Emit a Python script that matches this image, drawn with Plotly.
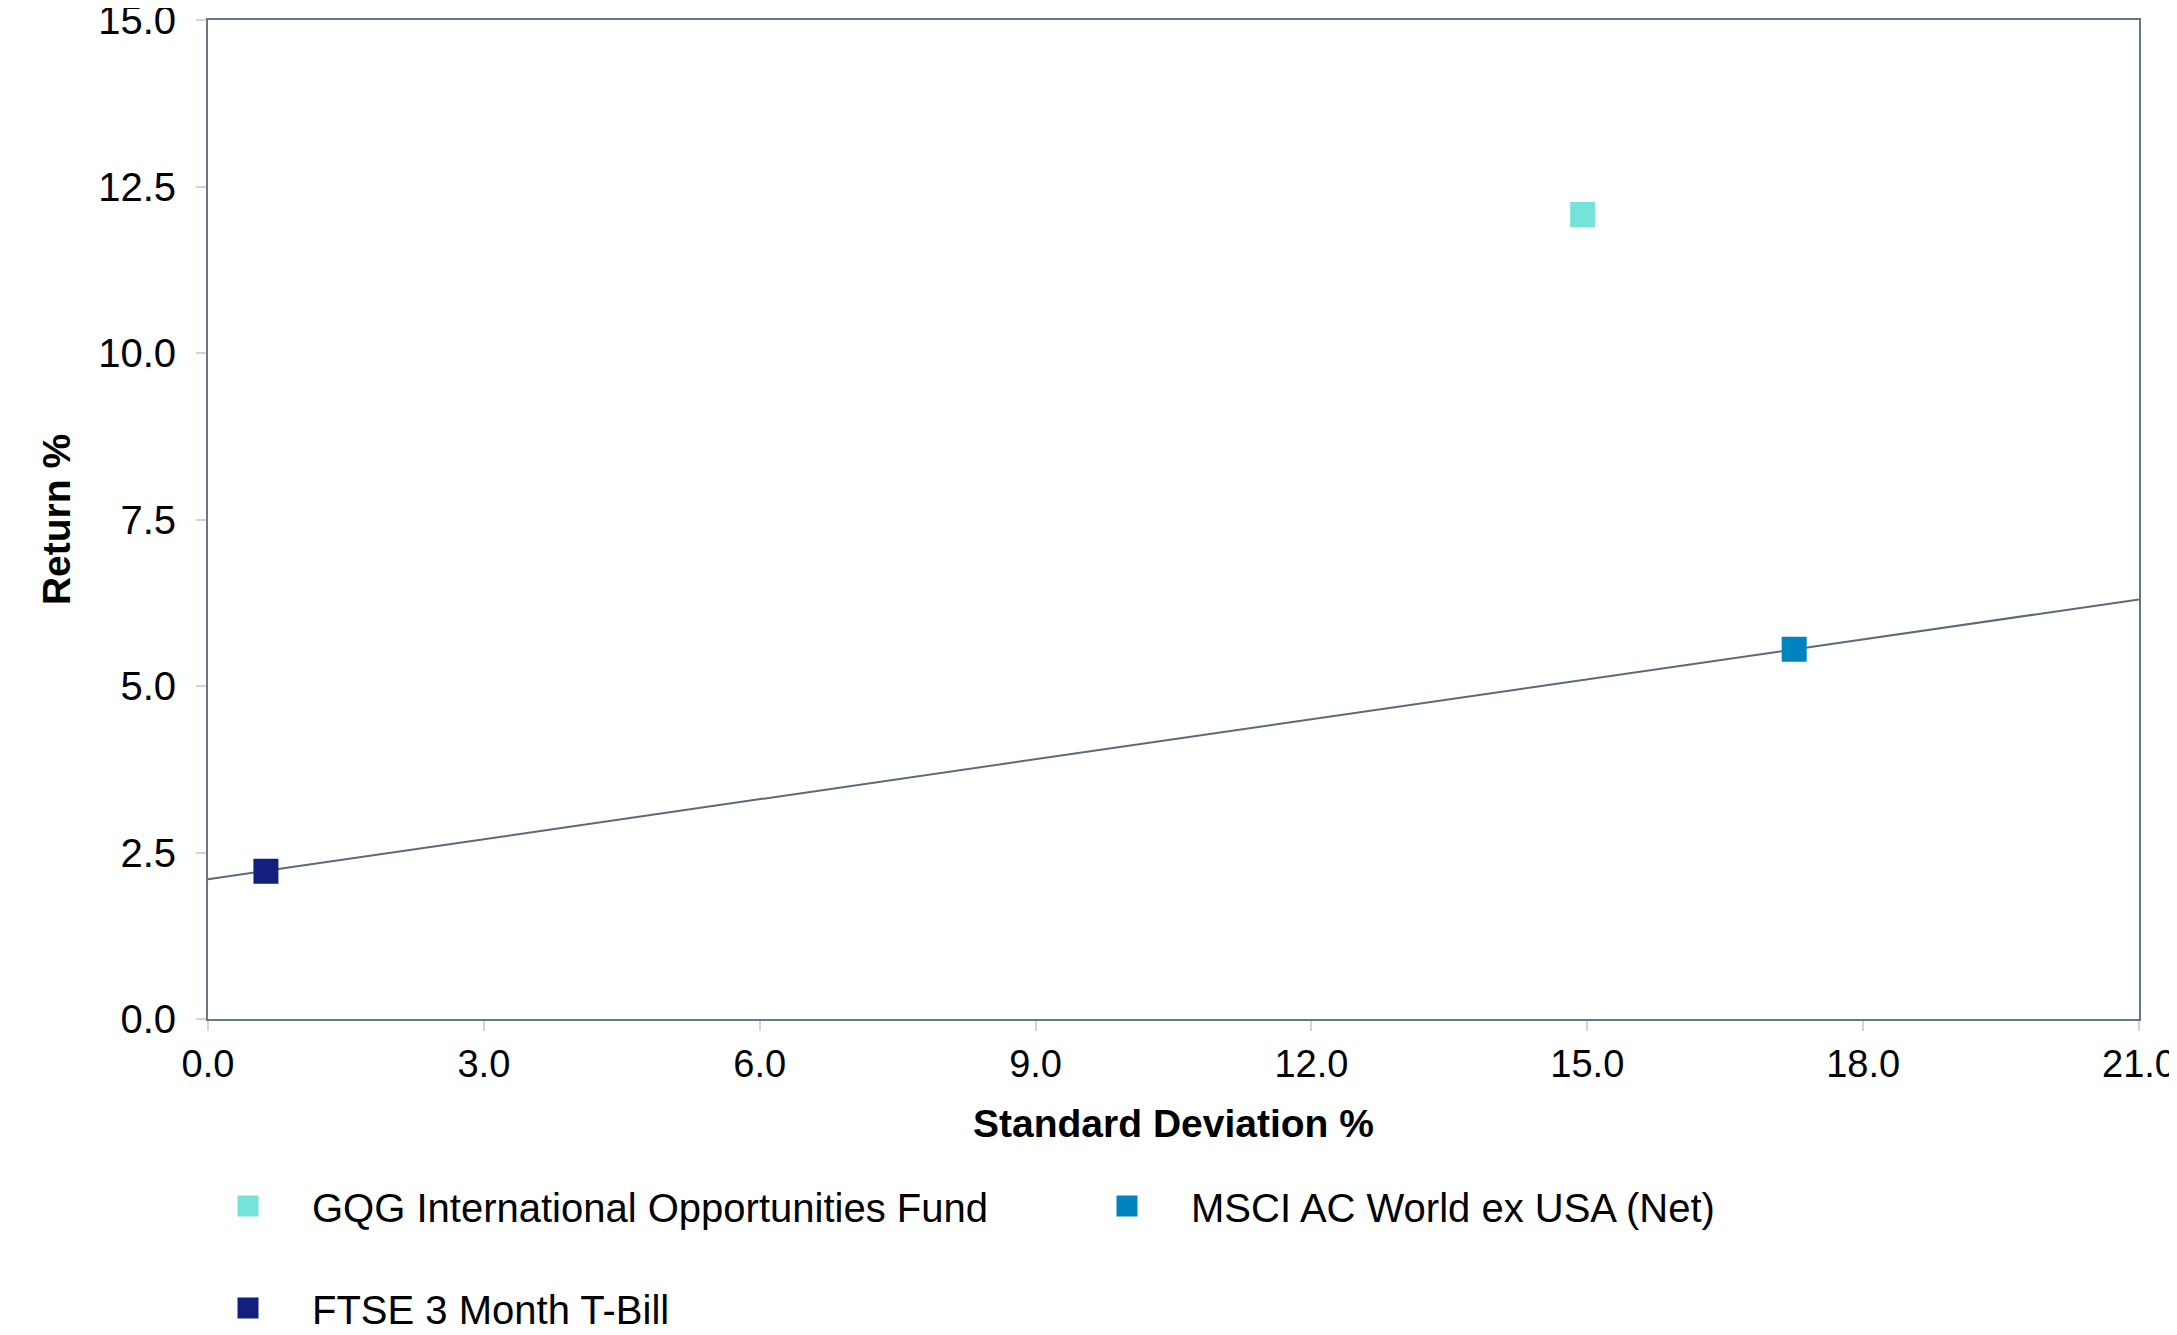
import plotly.graph_objects as go

# Data
series_names = ["GQG International Opportunities Fund", "MSCI AC World ex USA (Net)", "FTSE 3 Month T-Bill"]
std_dev = [14.95, 17.25, 0.63]
returns = [12.08, 5.55, 2.22]
colors = ["#76E3D8", "#0083BF", "#131F7D"]

# Capital market line
line_x = [0.0, 21.0]
line_y = [2.10, 6.30]

x_ticks = [0, 3, 6, 9, 12, 15, 18, 21]
y_ticks = [0, 2.5, 5, 7.5, 10, 12.5, 15]

fig = go.Figure()

fig.add_trace(go.Scatter(
    x=line_x, y=line_y, mode="lines",
    line=dict(color="#5B6A77", width=2),
    showlegend=False, hoverinfo="skip"))

legend_ids = ["legend", "legend2", "legend3"]
for name, sx, ry, c, lg in zip(series_names, std_dev, returns, colors, legend_ids):
    fig.add_trace(go.Scatter(
        x=[sx], y=[ry], mode="markers", name=name,
        marker=dict(symbol="square", size=20, color=c,
                    line=dict(color=c, width=5)),
        legend=lg))

# page body has an 8px margin; figure is sized to fit the window
W, H = 2169, 1327
font_family = "Liberation Sans, Arial, Helvetica, sans-serif"
leg_common = dict(font=dict(family=font_family, size=40, color="#000000"),
                  bgcolor="rgba(0,0,0,0)", itemsizing="trace", itemwidth=118,
                  xref="paper", yref="container", xanchor="left", yanchor="middle")

fig.update_layout(
    width=W, height=H,
    margin=dict(l=200, r=38, t=12, b=316),
    paper_bgcolor="white", plot_bgcolor="white",
    font=dict(family=font_family, size=40, color="#000000"),
    xaxis=dict(
        range=[0, 21], tickvals=x_ticks, ticktext=[f"{v:.1f}" for v in x_ticks],
        showgrid=False, zeroline=False, automargin=False,
        showline=True, linecolor="#667685", linewidth=2, mirror=True,
        ticks="outside", ticklen=10, tickcolor="#D3D3D3", tickwidth=2,
        tickfont=dict(size=38), ticklabelstandoff=0, ticklabeloverflow="allow",
        title=dict(text="<b>Standard Deviation %</b>", font=dict(size=39), standoff=26),
    ),
    yaxis=dict(
        range=[0, 15], tickvals=y_ticks, ticktext=[f"{v:.1f}" for v in y_ticks],
        showgrid=False, zeroline=False, automargin=False,
        showline=True, linecolor="#667685", linewidth=2, mirror=True,
        ticks="outside", ticklen=10, tickcolor="#D3D3D3", tickwidth=2,
        tickfont=dict(size=40), ticklabelstandoff=12, ticklabeloverflow="allow",
        title=dict(text="<b>Return %</b>", font=dict(size=39), standoff=15),
    ),
    legend=dict(x=(184 - 208) / 1931, y=1 - 1198 / H, **leg_common),
    legend2=dict(x=(1063 - 208) / 1931, y=1 - 1198 / H, **leg_common),
    legend3=dict(x=(184 - 208) / 1931, y=1 - 1300 / H, **leg_common),
)

fig.write_html("out.html")
